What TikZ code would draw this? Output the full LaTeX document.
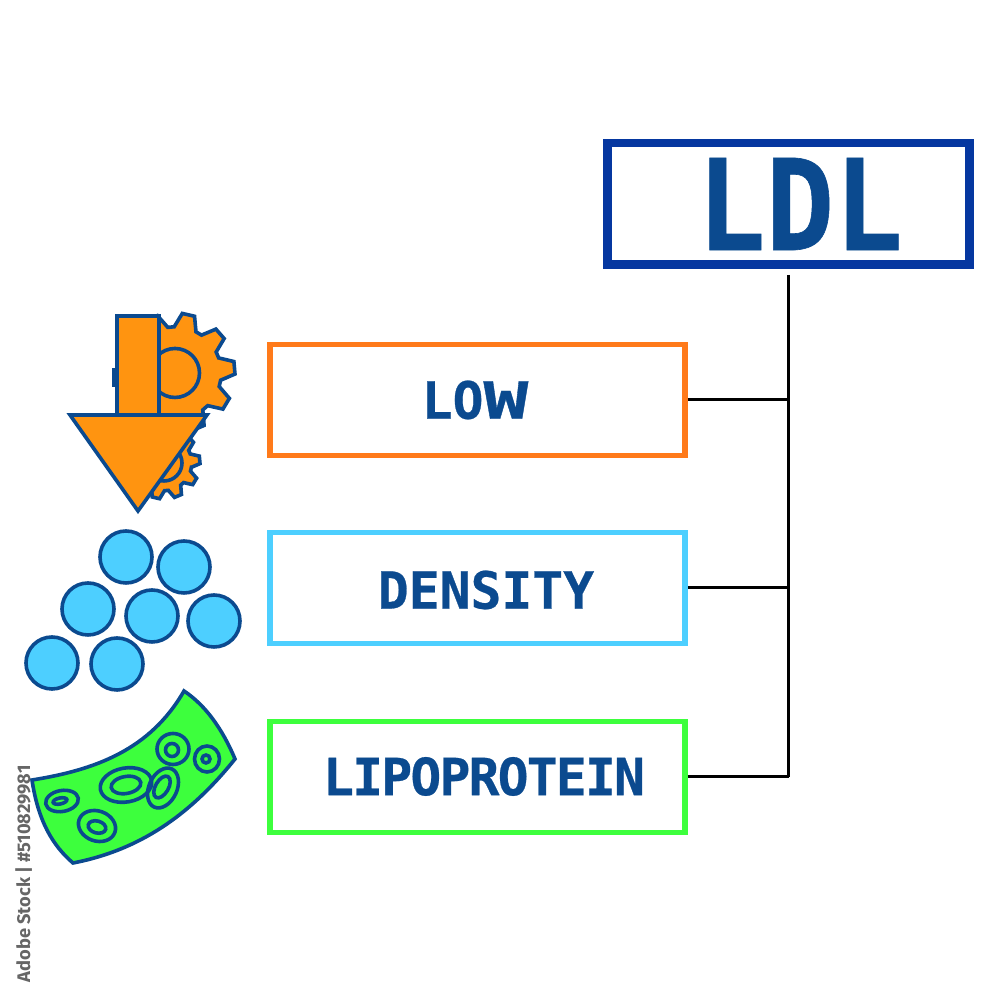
\documentclass[tikz,border=0pt]{standalone}
\usepackage{graphicx}
\usepackage{fontspec}
\setmainfont{Fira Sans}
\newfontfamily\wordfont[BoldFeatures={FakeBold=0.5}]{DejaVu Sans Mono}
\newfontfamily\tightfont[BoldFeatures={FakeBold=0.5},LetterSpace=-3.5]{DejaVu Sans Mono}
\definecolor{inkblue}{HTML}{0B4A8F}
\definecolor{titleblue}{HTML}{0537A0}
\definecolor{gearorange}{HTML}{FF9410}
\definecolor{lowline}{HTML}{FF7A1A}
\definecolor{dotblue}{HTML}{4DCFFF}
\definecolor{cellgreen}{HTML}{3DFF3D}
\newcommand{\geartooth}[2]{-- (#1-14:#2*0.77) -- (#1-6:#2) -- (#1+6:#2) -- (#1+14:#2*0.77)}
\begin{document}
\begin{tikzpicture}[
    term/.style={draw, minimum width=4.15cm, minimum height=1.11cm, line width=0.055cm},
    word/.style={font=\wordfont\fontsize{14.6}{18}\selectfont\bfseries, text=inkblue},
    icon/.style={draw=inkblue, line width=0.036cm},
    dot/.style={icon, circle, fill=dotblue, minimum size=0.52cm, inner sep=0pt},
    lead/.style={line width=0.03cm, black},
]
\useasboundingbox (0,0) rectangle (10,10);
\fill[white] (0,0) rectangle (10,10);

\node[draw=titleblue, line width=0.085cm, minimum width=3.62cm, minimum height=1.215cm] (ldl) at (7.885, 7.96) {};
\node[font=\wordfont\fontsize{36}{42}\selectfont\bfseries, text=inkblue] (ldltext) at (8.00, 7.96) {\scalebox{0.9}[1]{LDL}};

\node[term, draw=lowline] (low) at (4.775, 6.00) {};
\node[word] (lowtext) at (4.75, 6.00) {LO\scalebox{1.45}[1]{W}};
\node[term, draw=dotblue] (density) at (4.775, 4.12) {};
\node[word] (densitytext) at (4.86, 4.10) {DENSITY};
\node[term, draw=cellgreen] (lipo) at (4.775, 2.23) {};
\node[word, font=\tightfont\fontsize{14.6}{18}\selectfont\bfseries] (lipotext) at (4.84, 2.235) {LIPOPROTEIN};

\coordinate (trunktop) at (7.885, 7.25);
\coordinate (trunkend) at (7.885, 2.23);
\draw[lead] (trunktop) -- (trunkend);
\draw[lead] (low.east) -- (low.east -| trunktop);
\draw[lead] (density.east) -- (density.east -| trunktop);
\draw[lead] (lipo.east) -- (trunkend);

\draw[icon, fill=gearorange] (1.14, 6.15) rectangle (1.20, 6.30);
\begin{scope}[shift={(1.64, 5.37)}]
\draw[icon, fill=gearorange] (-9:0.277) \foreach \a in {5,41,...,329} {\geartooth{\a}{0.36}} -- cycle;
\draw[icon] (0.18, 0) arc (0:360:0.18);
\end{scope}
\begin{scope}[shift={(1.75, 6.27)}]
\draw[icon, fill=gearorange] (-9:0.462) \foreach \a in {5,41,...,329} {\geartooth{\a}{0.60}} -- cycle;
\draw[icon] (0.245, 0) arc (0:360:0.245);
\end{scope}
\draw[icon, fill=gearorange] (1.17, 5.85) rectangle (1.59, 6.84);
\draw[icon, fill=gearorange] (0.70, 5.85) -- (2.07, 5.85) -- (1.38, 4.89) -- cycle;

\node[dot] (d1) at (1.26, 4.43) {};
\node[dot] (d2) at (1.84, 4.33) {};
\node[dot] (d3) at (0.88, 3.91) {};
\node[dot] (d4) at (1.52, 3.84) {};
\node[dot] (d5) at (2.14, 3.79) {};
\node[dot] (d6) at (0.52, 3.37) {};
\node[dot] (d7) at (1.17, 3.36) {};

\draw[icon, fill=cellgreen] (0.32, 2.20) .. controls (0.95, 2.30) and (1.50, 2.50) .. (1.84, 3.09)
    .. controls (2.05, 2.95) and (2.22, 2.72) .. (2.35, 2.41)
    .. controls (1.90, 1.85) and (1.40, 1.50) .. (0.73, 1.37)
    .. controls (0.52, 1.55) and (0.38, 1.80) .. cycle;
\draw[icon] (0.62, 1.99) ellipse [x radius=0.165, y radius=0.105, rotate=10];
\draw[icon] (0.60, 1.99) ellipse [x radius=0.07, y radius=0.03, rotate=12];
\draw[icon] (0.97, 1.74) ellipse [x radius=0.19, y radius=0.15, rotate=-20];
\draw[icon] (0.97, 1.73) ellipse [x radius=0.09, y radius=0.06, rotate=-15];
\draw[icon] (1.26, 2.15) ellipse [x radius=0.26, y radius=0.17, rotate=10];
\draw[icon] (1.26, 2.15) ellipse [x radius=0.15, y radius=0.085, rotate=10];
\draw[icon] (1.63, 2.12) ellipse [x radius=0.21, y radius=0.14, rotate=65];
\draw[icon] (1.62, 2.13) ellipse [x radius=0.12, y radius=0.065, rotate=60];
\draw[icon] (1.73, 2.51) ellipse [x radius=0.16, y radius=0.155, rotate=0];
\draw[icon] (1.72, 2.50) ellipse [x radius=0.065, y radius=0.065, rotate=0];
\draw[icon] (2.07, 2.41) ellipse [x radius=0.125, y radius=0.13, rotate=0];
\draw[icon] (2.06, 2.41) ellipse [x radius=0.04, y radius=0.04, rotate=0];

\node[rotate=90, anchor=base west, font=\fontsize{5.2}{6}\selectfont\bfseries, text=black!60, inner sep=0pt] (stockid) at (0.30, 0.17) {Adobe Stock | \#510829981};
\end{tikzpicture}
\end{document}
